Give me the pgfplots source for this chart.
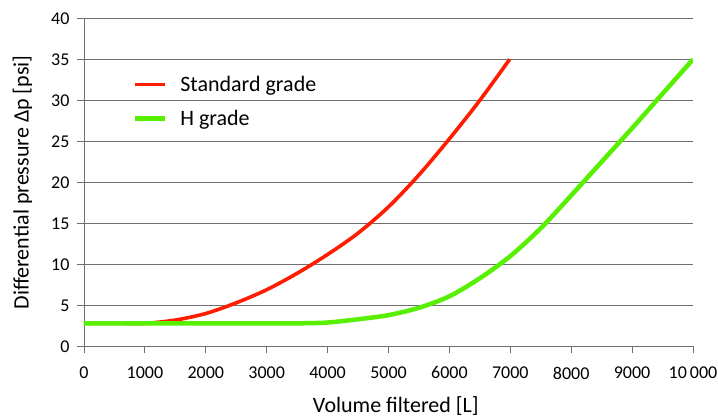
\documentclass[border=0pt]{standalone}
\usepackage{fontspec}
\setmainfont{Carlito}
\usepackage{pgfplots}
\pgfplotsset{compat=1.18}

\definecolor{stdred}{RGB}{255,28,0}
\definecolor{hgreen}{RGB}{88,240,0}
\definecolor{gridgray}{RGB}{112,112,112}
\newcommand{\tickfont}{\fontsize{18bp}{21bp}\selectfont}
\newcommand{\labelfont}{\fontsize{22bp}{26bp}\selectfont}

\begin{document}
\begin{tikzpicture}
  \begin{axis}[
    scale only axis,
    width=609bp,
    height=328bp,
    xmin=0, xmax=10000,
    ymin=0, ymax=40,
    axis x line*=bottom,
    axis y line*=left,
    axis line style={draw=gridgray, line width=0.9bp, -},
    xtick={0,1000,...,10000},
    xticklabels={0,1000,2000,3000,4000,5000,6000,7000,8000,9000,10\,000},
    ytick={0,5,...,40},
    scaled x ticks=false,
    tick align=outside,
    major tick length=7bp,
    tick style={draw=gridgray, line width=0.9bp},
    ymajorgrids=true,
    grid style={draw=gridgray, line width=0.9bp},
    /pgf/number format/assume math mode=true,
    tick label style={font=\tickfont},
    xticklabel style={yshift=-10bp},
    yticklabel style={xshift=-4bp},
    xlabel={Volume filtered [L]},
    ylabel={Differential pressure Δp [psi]},
    label style={font=\labelfont},
    xlabel style={at={(axis description cs:0.512,-0.181)}, anchor=center},
    ylabel style={at={(axis description cs:-0.101,0.5)}, anchor=center},
    legend style={
      at={(axis description cs:0.075,0.836)},
      anchor=north west,
      draw=none, fill=none,
      font=\labelfont,
      row sep=13bp,
      legend cell align=left,
      /tikz/every odd column/.append style={column sep=11bp},
    },
    legend image code/.code={\draw[#1] (0bp,0bp) -- (30bp,0bp);},
  ]

  % Standard grade
  \addplot[stdred, line width=3.6bp, smooth] coordinates {
    (0,2.8) (500,2.8) (1000,2.8) (1500,3.2) (2000,4.0) (2500,5.3)
    (3000,6.9) (3500,8.9) (4000,11.2) (4500,13.8) (5000,17.0)
    (5500,20.9) (6000,25.3) (6500,30.0) (6990,35.0)
  };
  \addlegendentry{Standard grade}

  % H grade
  \addplot[hgreen, line width=4.5bp, smooth] coordinates {
    (0,2.8) (1000,2.8) (2000,2.8) (3000,2.8) (3500,2.8) (4000,2.9)
    (4500,3.3) (5000,3.8) (5500,4.7) (6000,6.1) (6500,8.3)
    (7000,11.0) (7500,14.4) (8000,18.4) (8500,22.5) (9000,26.6)
    (9500,30.8) (10000,35.0)
  };
  \addlegendentry{H grade}

  \end{axis}
  \pgfresetboundingbox
  \path[use as bounding box] (-84bp,-71.7bp) rectangle (634bp,346.3bp);
\end{tikzpicture}
\end{document}
